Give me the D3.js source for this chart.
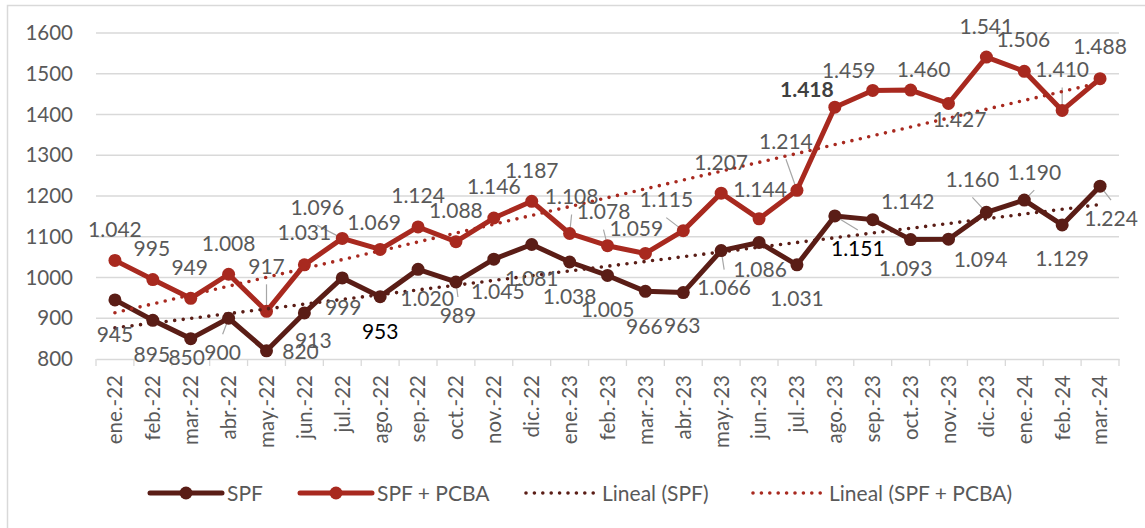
<!DOCTYPE html>
<html>
<head>
<meta charset="utf-8">
<script src="https://cdn.jsdelivr.net/npm/d3@7"></script>
<style>
  html, body { margin: 0; padding: 0; background: #fff; }
  svg { display: block; font-family: Lato, "Open Sans", sans-serif; }
</style>
</head>
<body>
<svg id="chart" width="1145" height="528"></svg>
<script>
// ---------- data ----------
const categories = ["ene.-22","feb.-22","mar.-22","abr.-22","may.-22","jun.-22","jul.-22","ago.-22","sep.-22","oct.-22","nov.-22","dic.-22",
  "ene.-23","feb.-23","mar.-23","abr.-23","may.-23","jun.-23","jul.-23","ago.-23","sep.-23","oct.-23","nov.-23","dic.-23",
  "ene.-24","feb.-24","mar.-24"];
const spf = [945, 895, 850, 900, 820, 913, 999, 953, 1020, 989, 1045, 1081, 1038, 1005, 966, 963, 1066, 1086, 1031, 1151, 1142, 1093, 1094, 1160, 1190, 1129, 1224];
const spfPcba = [1042, 995, 949, 1008, 917, 1031, 1096, 1069, 1124, 1088, 1146, 1187, 1108, 1078, 1059, 1115, 1207, 1144, 1214, 1418, 1459, 1460, 1427, 1541, 1506, 1410, 1488];
const yTicks = [800, 900, 1000, 1100, 1200, 1300, 1400, 1500, 1600];
const seriesNames = ["SPF", "SPF + PCBA", "Lineal (SPF)", "Lineal (SPF + PCBA)"];

// ---------- label layout (offsets from each point, px) ----------
const spfLabelOffsets = [[0,35],[-1,34],[-4,19],[-6,34],[34,1],[9,27],[1,30],[0,35],[9,29],[2,33],[4,32],[0,34],[0,34],[0,34],[-1,35],[-1,33],[3,37],[1,27],[0,34],[23,32],[35,-18],[-5,29],[32,20],[-14,-33],[10,-28],[0,34],[11,32]];
const spfLeaders = [3, 9, 16, 19, 23, 24, 26];
const spfDark = [7, 19];
const pcbaLabelOffsets = [[0,-31],[-1,-31],[-1,-31],[0,-31],[0,-45],[0,-32],[-25,-31],[-6,-27],[0,-32],[0,-31],[0,-32],[0,-31],[2,-37],[-4,-34],[-9,-25],[-17,-31],[0,-31],[1,-29],[-11,-49],[-28,-18],[-24,-20],[13,-21],[11,16],[0,-31],[-1,-32],[0,-41],[0,-32]];
const pcbaLeaders = [4, 6, 12, 13, 15, 18, 25];
const pcbaBold = [19];

// ---------- styles ----------
const colDark = "#5A1D16";
const colRed = "#A8291F";
const colText = "#595959";
const colGrid = "#D9D9D9";
const fontSize = 21;
const axisFontSize = 20.5;

const svg = d3.select("#chart");
const W = 1145, H = 528;
const plot = { left: 96, right: 1119, top: 33, bottom: 359 };

// chart border
svg.append("rect").attr("x", 7.5).attr("y", 5.5).attr("width", W + 10).attr("height", H + 10)
  .attr("fill", "#fff").attr("stroke", colGrid).attr("stroke-width", 1.5);

const x = d3.scaleBand().domain(categories).range([plot.left, plot.right]).paddingInner(0).paddingOuter(0);
const cx = d => x(d) + x.bandwidth() / 2;
const y = d3.scaleLinear().domain([800, 1600]).range([plot.bottom, plot.top]);

// gridlines
svg.append("g").selectAll("line").data(yTicks.slice(1)).join("line")
  .attr("x1", plot.left).attr("x2", plot.right)
  .attr("y1", d => y(d)).attr("y2", d => y(d))
  .attr("stroke", colGrid).attr("stroke-width", 1.3);

// y axis labels
const yAxis = svg.append("g").attr("transform", `translate(${plot.left},0)`)
  .call(d3.axisLeft(y).tickValues(yTicks).tickSize(0).tickPadding(23).tickFormat(d3.format("d")));
yAxis.select(".domain").remove();
yAxis.selectAll("text").attr("fill", colText).style("font-size", axisFontSize + "px").style("font-family", "Lato");

// x axis
const xAxis = svg.append("g").attr("transform", `translate(0,${plot.bottom})`)
  .call(d3.axisBottom(x).tickSize(0).tickPadding(0));
xAxis.select(".domain").attr("stroke", colGrid).attr("stroke-width", 1.3);
xAxis.selectAll(".tick text")
  .attr("fill", colText).style("font-size", axisFontSize + "px").style("font-family", "Lato")
  .attr("text-anchor", "end")
  .attr("transform", "rotate(-90)")
  .attr("x", -16).attr("y", 0).attr("dy", "0.36em");
// tick marks at band boundaries
const boundaries = categories.map(c => x(c)).concat([x(categories[categories.length - 1]) + x.bandwidth()]);
svg.append("g").selectAll("line").data(boundaries).join("line")
  .attr("x1", d => d).attr("x2", d => d)
  .attr("y1", plot.bottom).attr("y2", plot.bottom + 7)
  .attr("stroke", colGrid).attr("stroke-width", 1.3);

// series lines
const line = d3.line().x((d, i) => cx(categories[i])).y(d => y(d));
function drawSeries(values, color) {
  svg.append("path").datum(values).attr("d", line)
    .attr("fill", "none").attr("stroke", color).attr("stroke-width", 5).attr("stroke-linejoin", "round");
  svg.append("g").selectAll("circle").data(values).join("circle")
    .attr("cx", (d, i) => cx(categories[i])).attr("cy", d => y(d)).attr("r", 6.5).attr("fill", color);
}

// trend lines (least-squares)
function regression(values) {
  const n = values.length;
  const xs = d3.range(n);
  const mx = d3.mean(xs), my = d3.mean(values);
  const b = d3.sum(xs, (xi, i) => (xi - mx) * (values[i] - my)) / d3.sum(xs, xi => (xi - mx) ** 2);
  const a = my - b * mx;
  return [a, a + b * (n - 1)];
}
function drawTrend(values, color) {
  const [v0, v1] = regression(values);
  svg.append("line")
    .attr("x1", cx(categories[0])).attr("x2", cx(categories[categories.length - 1]))
    .attr("y1", y(v0)).attr("y2", y(v1))
    .attr("stroke", color).attr("stroke-width", 3.6).attr("stroke-linecap", "round")
    .attr("stroke-dasharray", "0 8.6");
}

// leaders (drawn first so markers cover their ends)
const leaderG = svg.append("g");
function drawLeaders(values, offsets, idxs) {
  idxs.forEach(i => {
    const px = cx(categories[i]), py = y(values[i]);
    const [dx, dy] = offsets[i];
    const lx = px + dx, ly = py + dy + (dy < 0 ? 18 : -18);
    leaderG.append("line").attr("x1", px).attr("y1", py).attr("x2", lx).attr("y2", ly)
      .attr("stroke", "#A6A6A6").attr("stroke-width", 1.2);
  });
}
drawLeaders(spf, spfLabelOffsets, spfLeaders);
drawLeaders(spfPcba, pcbaLabelOffsets, pcbaLeaders);

drawSeries(spf, colDark);
drawSeries(spfPcba, colRed);
drawTrend(spf, colDark);
drawTrend(spfPcba, colRed);

// data labels
const fmt = d3.formatLocale({ decimal: ",", thousands: ".", grouping: [3], currency: ["", ""] }).format(",d");
function drawLabels(values, offsets, darkIdx, boldIdx) {
  svg.append("g").selectAll("text").data(values).join("text")
    .attr("x", (d, i) => cx(categories[i]) + offsets[i][0])
    .attr("y", (d, i) => y(d) + offsets[i][1])
    .attr("dy", "0.36em")
    .attr("text-anchor", "middle")
    .style("font-size", fontSize + "px")
    .style("font-weight", (d, i) => boldIdx.includes(i) ? "bold" : "normal")
    .attr("fill", (d, i) => darkIdx.includes(i) ? "#000" : (boldIdx.includes(i) ? "#404040" : colText))
    .text(d => fmt(d));
}
drawLabels(spf, spfLabelOffsets, spfDark, []);
drawLabels(spfPcba, pcbaLabelOffsets, [], pcbaBold);

// legend
const legendY = 493;
const legendItems = [
  { name: seriesNames[0], color: colDark, type: "line", x0: 150 },
  { name: seriesNames[1], color: colRed, type: "line", x0: 300 },
  { name: seriesNames[2], color: colDark, type: "dot", x0: 526 },
  { name: seriesNames[3], color: colRed, type: "dot", x0: 753 }
];
const lg = svg.append("g");
legendItems.forEach(it => {
  if (it.type === "line") {
    lg.append("line").attr("x1", it.x0).attr("x2", it.x0 + 72).attr("y1", legendY).attr("y2", legendY)
      .attr("stroke", it.color).attr("stroke-width", 5).attr("stroke-linecap", "round");
    lg.append("circle").attr("cx", it.x0 + 36).attr("cy", legendY).attr("r", 6.5).attr("fill", it.color);
    lg.append("text").attr("x", it.x0 + 77).attr("y", legendY).attr("dy", "0.36em")
      .attr("fill", colText).style("font-size", fontSize + "px").text(it.name);
  } else {
    lg.append("line").attr("x1", it.x0).attr("x2", it.x0 + 68).attr("y1", legendY).attr("y2", legendY)
      .attr("stroke", it.color).attr("stroke-width", 3.6).attr("stroke-linecap", "round")
      .attr("stroke-dasharray", "0 8.4");
    lg.append("text").attr("x", it.x0 + 76).attr("y", legendY).attr("dy", "0.36em")
      .attr("fill", colText).style("font-size", fontSize + "px").text(it.name);
  }
});
</script>
</body>
</html>
